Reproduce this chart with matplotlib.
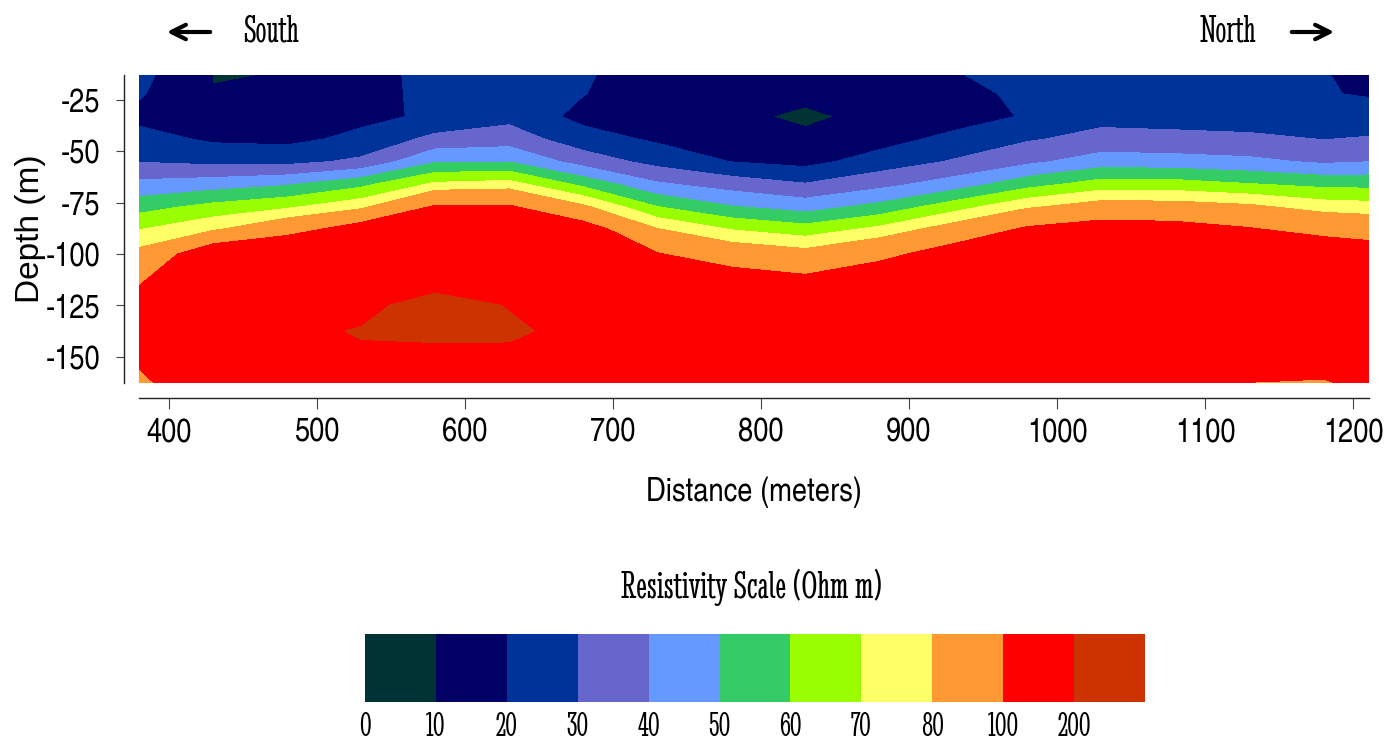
import numpy as np
import matplotlib
matplotlib.use("Agg")
import matplotlib.pyplot as plt
from matplotlib.patches import FancyArrowPatch

plt.rcParams["axes.unicode_minus"] = False

# stations along the profile (m) and depths of the model rows (m)
distance_m = [380, 430, 480, 530, 580, 630, 680, 730, 780, 830,
              880, 930, 980, 1030, 1080, 1130, 1180, 1230]
depth_m = [-12.5, -22, -33, -44, -55, -66, -77, -88, -100,
           -112.5, -125, -137.5, -150, -163]

# resistivity (Ohm m), one list per station, top -> bottom
rho_380 = [23, 21, 17.3, 23.6, 29.6, 42.6, 56.1, 69.7, 83.6, 96, 112, 120, 104, 95]
rho_430 = [9.8, 10.2, 15, 18.5, 27.5, 45.2, 63.0, 78.4, 115, 135, 150, 165, 150, 119]
rho_480 = [10.1, 13, 16, 17.5, 27.2, 48.9, 68.4, 91.7, 125, 150, 175, 182, 160, 130]
rho_530 = [16, 16, 17.5, 22.5, 32, 57.3, 77.1, 110, 135, 160, 175, 205, 190, 150]
rho_580 = [23.3, 23, 21.7, 32.8, 49.1, 71.9, 102, 130, 150, 155, 240, 250, 139, 125]
rho_630 = [24, 25, 27, 35.1, 49.6, 74.1, 102, 130, 150, 170, 195, 215, 180, 140]
rho_680 = [21, 20.3, 17, 24.3, 35.6, 57.2, 82.1, 110, 135, 155, 160, 170, 165, 150]
rho_730 = [15.5, 14, 14, 18.5, 26.7, 41.4, 60.2, 80.7, 101, 125, 145, 155, 160, 155]
rho_780 = [15, 14, 12.4, 15, 19.8, 35.5, 50.6, 69.6, 89.4, 110, 130, 145, 150, 150]
rho_830 = [14, 12.7, 8, 12.4, 17, 30.6, 45.7, 64.4, 84.4, 104, 125, 140, 145, 150]
rho_880 = [14, 13.5, 13.1, 16, 24.5, 36.9, 53.1, 72.7, 93.9, 115, 135, 150, 155, 155]
rho_930 = [19.5, 17, 15, 22.9, 30.9, 44.5, 65.5, 86, 110, 130, 145, 155, 155, 150]
rho_980 = [23, 22, 21, 29, 37.8, 56.2, 78.3, 103, 125, 145, 155, 160, 160, 155]
rho_1030 = [24, 25, 27, 33.1, 44.9, 64.4, 85.8, 110, 135, 150, 160, 165, 165, 160]
rho_1080 = [23, 24, 26.5, 32.4, 44.1, 64, 85.3, 108, 130, 145, 155, 160, 135, 112]
rho_1130 = [22, 23.5, 26, 31.6, 42.3, 60.5, 82.2, 101.5, 125, 140, 145, 145, 125, 99]
rho_1180 = [20.5, 21, 25, 29.8, 38.5, 57.3, 75.5, 93.7, 115, 130, 140, 140, 116, 97]
rho_1230 = [15, 17, 26, 31.2, 40.7, 56.8, 73.4, 90, 108, 125, 135, 135, 125, 115]

levels = [0, 10, 20, 30, 40, 50, 60, 70, 80, 100, 200, 1000]
level_labels = ["0", "10", "20", "30", "40", "50", "60", "70", "80", "100", "200"]
colors = ["#003333", "#000066", "#003399", "#6666CC", "#6699FF", "#33CC66",
          "#99FF00", "#FFFF66", "#FF9933", "#FF0000", "#CC3300"]

x_ticks = [400, 500, 600, 700, 800, 900, 1000, 1100, 1200]
y_ticks = [-25, -50, -75, -100, -125, -150]

narrow = ["TeX Gyre Heros Cn", "PT Sans Narrow", "DejaVu Sans"]
sans = ["Liberation Sans", "DejaVu Sans"]
serif_c = ["Stint Ultra Condensed", "DejaVu Serif"]

W, H = 1384, 745
fig = plt.figure(figsize=(W / 100, H / 100), dpi=100)

Z = np.array([rho_380, rho_430, rho_480, rho_530, rho_580, rho_630, rho_680,
              rho_730, rho_780, rho_830, rho_880, rho_930, rho_980, rho_1030,
              rho_1080, rho_1130, rho_1180, rho_1230]).T

ax = fig.add_axes([139 / W, 1 - 383.3 / H, (1369 - 139) / W, (383.3 - 75) / H])
ax.contourf(distance_m, depth_m, Z, levels=levels, colors=colors)
ax.set_xlim(380, 1210.6)
ax.set_ylim(-163, -12.8)

for s in ["top", "right"]:
    ax.spines[s].set_visible(False)
ax.spines["left"].set_position(("outward", 10.6))
ax.spines["bottom"].set_position(("outward", 10.8))
for s in ["left", "bottom"]:
    ax.spines[s].set_color("#222222")
    ax.spines[s].set_linewidth(1.0)

ax.set_xticks(x_ticks)
ax.set_yticks(y_ticks)
ax.tick_params(axis="x", length=8, width=0.8, color="#444444", pad=6)
ax.tick_params(axis="y", length=6, width=0.8, color="#444444", pad=11)
for lab in ax.get_xticklabels() + ax.get_yticklabels():
    lab.set_family(narrow)
    lab.set_fontsize(24)

ax.set_xlabel("Distance (meters)", family=narrow, fontsize=24, labelpad=20)
ax.set_ylabel("Depth (m)", family=sans, fontsize=24, labelpad=0)

# direction markers
fig.text(271 / W, 1 - 32 / H, "South", ha="center", va="center", fontsize=28, family=serif_c)
fig.text(1228 / W, 1 - 32 / H, "North", ha="center", va="center", fontsize=28, family=serif_c)
for a, b in [((213, 32), (164, 32)), ((1289, 32), (1337, 32))]:
    fig.add_artist(FancyArrowPatch((a[0] / W, 1 - a[1] / H), (b[0] / W, 1 - b[1] / H),
                                   transform=fig.transFigure, arrowstyle="->",
                                   mutation_scale=26, lw=3.0, color="black"))

# colour scale
cax = fig.add_axes([365 / W, 1 - 702 / H, (1145 - 365) / W, (702 - 634) / H])
cax.bar(range(len(colors)), 1, width=1, align="edge", color=colors)
cax.set_xlim(0, len(colors))
cax.set_ylim(0, 1)
for s in cax.spines.values():
    s.set_visible(False)
cax.set_yticks([])
cax.set_xticks(range(len(level_labels)))
cax.set_xticklabels(level_labels, fontsize=25, family=serif_c)
cax.tick_params(axis="x", length=0, pad=7)
fig.text(752 / W, 1 - 587 / H, "Resistivity Scale (Ohm m)", ha="center", va="center",
         fontsize=29, family=serif_c)

fig.savefig("out.png", dpi=100)
